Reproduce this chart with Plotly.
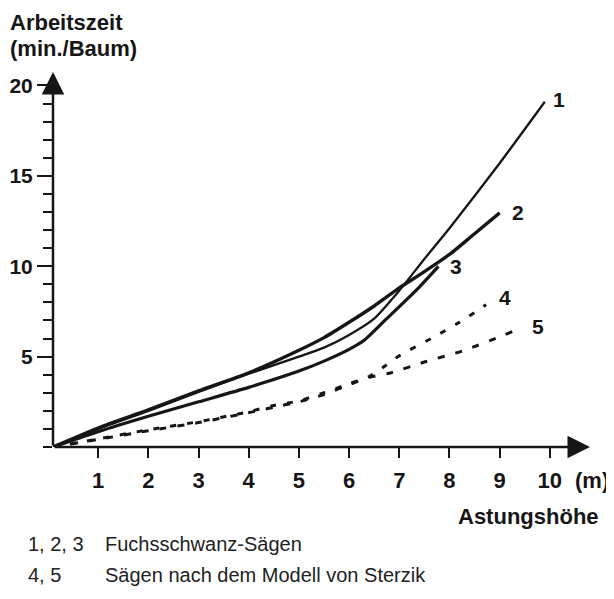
import plotly.graph_objects as go

# Astungshöhe (m) vs. Arbeitszeit (min./Baum)
x1 = [0.1, 1, 2, 3, 4, 5, 5.5, 6, 6.5, 7, 7.5, 8, 9, 9.9]
y1 = [0, 1.0, 2.0, 3.05, 4.05, 5.0, 5.5, 6.2, 7.1, 8.65, 10.4, 12.1, 15.7, 19.1]

x2 = [0.1, 1, 2, 3, 4, 5, 5.5, 6, 6.5, 7, 7.5, 8, 8.5, 9]
y2 = [0, 1.05, 2.05, 3.1, 4.1, 5.35, 6.05, 6.9, 7.8, 8.8, 9.7, 10.65, 11.8, 12.95]

x3 = [0.1, 1, 2, 3, 4, 5, 5.5, 6, 6.3, 6.75, 7.4, 7.78]
y3 = [0, 0.85, 1.7, 2.5, 3.3, 4.2, 4.75, 5.4, 5.9, 7.1, 8.85, 9.99]

x4 = [0.1, 1, 2, 3, 4, 4.5, 5, 5.5, 6, 6.4, 6.7, 7, 7.7, 8.2, 8.73]
y4 = [0, 0.45, 0.95, 1.4, 1.95, 2.3, 2.55, 3.0, 3.5, 3.9, 4.45, 5.05, 6.1, 6.9, 7.87]

x5 = [0.1, 1, 2, 3, 4, 4.5, 5, 5.5, 6, 6.4, 6.8, 7.5, 8.3, 9.0, 9.4]
y5 = [0, 0.42, 0.9, 1.35, 1.9, 2.2, 2.5, 2.9, 3.45, 3.85, 4.08, 4.7, 5.35, 6.1, 6.55]

xticks = [1, 2, 3, 4, 5, 6, 7, 8, 9, 10]
yticks = [5, 10, 15, 20]

ink = "#161616"
font = "Liberation Sans, Arial, sans-serif"

curves = [
    (x1, y1, "1", 2.3, "solid"),
    (x2, y2, "2", 3.4, "solid"),
    (x3, y3, "3", 3.2, "solid"),
    (x4, y4, "4", 3.0, "6px,11px"),
    (x5, y5, "5", 3.0, "7px,11px"),
]

fig = go.Figure()
for xs, ys, name, w, dash in curves:
    fig.add_trace(go.Scatter(x=xs, y=ys, mode="lines", name=name,
                             line=dict(color=ink, width=w, dash=dash,
                                       shape="spline", smoothing=0.6),
                             showlegend=False, hoverinfo="skip"))

# curve numbers at the line ends
shifts = {"1": (14, 2), "2": (18, 0), "3": (18, 0), "4": (19, 7), "5": (18, 2)}
for xs, ys, name, w, dash in curves:
    dx, dy = shifts[name]
    fig.add_annotation(x=xs[-1], y=ys[-1], text="<b>" + name + "</b>",
                       showarrow=False, xshift=dx, yshift=dy,
                       font=dict(size=21, color=ink, family=font))

# axes with arrow heads
fig.add_annotation(x=10.8, y=0, ax=0.1, ay=0, xref="x", yref="y",
                   axref="x", ayref="y", text="", showarrow=True,
                   arrowhead=2, arrowsize=1.8, arrowwidth=2.5, arrowcolor=ink)
fig.add_annotation(x=0.1, y=20.75, ax=0.1, ay=0, xref="x", yref="y",
                   axref="x", ayref="y", text="", showarrow=True,
                   arrowhead=2, arrowsize=1.8, arrowwidth=2.5, arrowcolor=ink)

bold = dict(size=22, color=ink, family=font, weight="bold")
fig.add_annotation(x=0, y=1, xref="paper", yref="paper", text="Arbeitszeit",
                   showarrow=False, xanchor="left", yanchor="middle",
                   xshift=-45, yshift=49, font=bold)
fig.add_annotation(x=0, y=1, xref="paper", yref="paper", text="(min./Baum)",
                   showarrow=False, xanchor="left", yanchor="middle",
                   xshift=-45, yshift=23, font=bold)
fig.add_annotation(x=1, y=0, xref="paper", yref="paper", text="(m)",
                   showarrow=False, xanchor="center", yanchor="middle",
                   xshift=2, yshift=-33, font=bold)
fig.add_annotation(x=1, y=0, xref="paper", yref="paper", text="Astungshöhe",
                   showarrow=False, xanchor="right", yanchor="middle",
                   xshift=11, yshift=-69, font=bold)

reg = dict(size=20, color="#222222", family=font)
for lab, txt, dy in [("1, 2, 3", "Fuchsschwanz-Sägen", -97),
                     ("4, 5", "Sägen nach dem Modell von Sterzik", -128)]:
    fig.add_annotation(x=0, y=0, xref="paper", yref="paper", text=lab,
                       showarrow=False, xanchor="left", yanchor="middle",
                       xshift=-27, yshift=dy, font=reg)
    fig.add_annotation(x=0, y=0, xref="paper", yref="paper", text=txt,
                       showarrow=False, xanchor="left", yanchor="middle",
                       xshift=50, yshift=dy, font=reg)

fig.update_xaxes(range=[0.1, 10.8], tickvals=xticks, ticks="outside",
                 ticklen=10, tickwidth=2, tickcolor=ink, showgrid=False,
                 zeroline=False, showline=False, ticklabelstandoff=4,
                 tickfont=bold, fixedrange=True, automargin=False)
fig.update_yaxes(range=[0, 20.8], tickvals=yticks, ticks="outside",
                 ticklen=15, tickwidth=2, tickcolor=ink, showgrid=False,
                 zeroline=False, showline=False, ticklabelstandoff=0,
                 tickfont=dict(size=21, color=ink, family=font, weight="bold"),
                 fixedrange=True, automargin=False,
                 minor=dict(dtick=1, tick0=0, ticks="outside", ticklen=9,
                            tickwidth=1.5, tickcolor=ink))

# the page body adds 8px, so the figure is a little smaller than the window
fig.update_layout(width=606, height=591,
                  margin=dict(l=45, r=24, t=63, b=152),
                  plot_bgcolor="white", paper_bgcolor="white")

fig.write_html("out.html")
